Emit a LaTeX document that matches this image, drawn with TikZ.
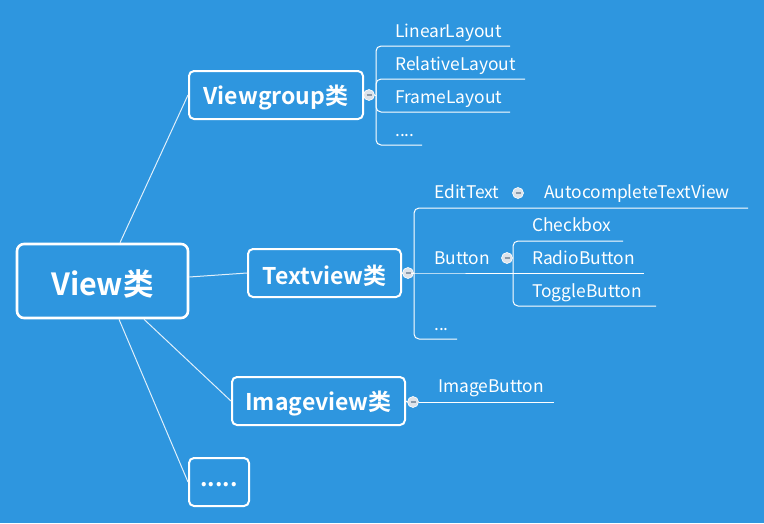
\documentclass[tikz,border=0pt]{standalone}
\usepackage{fontspec}
\setmainfont{Noto Sans CJK SC}[BoldFont={Noto Sans CJK SC Bold}]
\usetikzlibrary{calc}
\definecolor{bg}{HTML}{2E96DF}
\definecolor{togfill}{HTML}{DDE3EA}
\definecolor{togbar}{HTML}{8A9AAA}
\newcommand{\dn}[1]{\raisebox{-2.5pt}[\height][\depth]{#1}}
\begin{document}
\begin{tikzpicture}[x=1pt,y=-1pt,
  box/.style={draw=white,line width=2pt,rounded corners=5pt,text=white,font=\bfseries\fontsize{23}{26}\selectfont,inner sep=0pt},
  root/.style={box,line width=2.6pt,rounded corners=7pt,font=\bfseries\fontsize{30.5}{34}\selectfont},
  leaf/.style={text=white,font=\fontsize{17.4}{20}\selectfont,inner sep=0pt,anchor=base west},
  link/.style={draw=white!85!bg,line width=1pt},
  br/.style={draw=white,line width=1pt,rounded corners=5pt},
  tog/.style={circle,fill=togfill,draw=white,line width=0.6pt,minimum size=11pt,inner sep=0pt},
  togline/.style={draw=togbar,line width=1.4pt}]
\fill[bg] (0,0) rectangle (764,523);
\useasboundingbox (0,0) rectangle (764,523);

% main nodes
\node[root,minimum width=171pt,minimum height=74pt] (view) at (102.5,281) {\dn{View类}};
\node[box,minimum width=174pt,minimum height=48pt] (vg) at (276,95) {\dn{Viewgroup类}};
\node[box,minimum width=153pt,minimum height=48pt] (tv) at (324.5,273) {\dn{Textview类}};
\node[box,minimum width=173pt,minimum height=48pt] (iv) at (318.5,401) {\dn{Imageview类}};
\node[box,minimum width=60pt,minimum height=48pt] (dots) at (219,482) {\dn{.....}};

% connectors from root
\draw[link] ($(view.north)+(17.5,0)$) -- (vg.west);
\draw[link] ($(view.east)+(0,-4)$) -- (tv.west);
\draw[link] ($(view.south)+(41.5,0)$) -- (iv.west);
\draw[link] ($(view.south)+(16.5,0)$) -- (dots.west);

% Viewgroup children
\node[tog] (c1) at (369,95) {};
\coordinate (j1) at (376,95);
\draw[br] (vg.east) -- (c1.west);
\draw[br] (c1.east) -- (j1);
\node[leaf] (ll) at (395,37) {LinearLayout};
\node[leaf] (rl) at (395,70) {RelativeLayout};
\node[leaf] (fl) at (395,103) {FrameLayout};
\node[leaf] (vgd) at (395,136) {....};
\coordinate (ll-e) at (510,46);
\coordinate (rl-e) at (525,79);
\coordinate (fl-e) at (510,112);
\coordinate (vgd-e) at (422,145);
\draw[br] (j1) |- (ll-e);
\draw[br] (j1) |- (rl-e);
\draw[br] (j1) |- (fl-e);
\draw[br] (j1) |- (vgd-e);
\draw[togline] ($(c1)+(-2.5,0)$) -- ($(c1)+(2.5,0)$);

% Textview children
\node[tog] (c2) at (408,273) {};
\coordinate (j2) at (414,273);
\coordinate (j3) at (513,273);
\draw[br] (tv.east) -- (c2.west);
\draw[br] (c2.east) -- (j2) -- (j3);
\node[leaf] (et) at (434,198) {EditText};
\node[leaf] (act) at (544,198) {AutocompleteTextView};
\node[leaf] (btn) at (434,264) {Button};
\node[leaf] (tvd) at (434,330) {...};
\coordinate (et-e) at (748,208);
\coordinate (tvd-e) at (457,339);
\draw[br] (j2) |- (et-e);
\draw[br] (j2) |- (tvd-e);
\node[tog] (c3) at (518,193) {};
\draw[togline] ($(c3)+(-2.5,0)$) -- ($(c3)+(2.5,0)$);
\node[tog] (c4) at (507,258) {};
\draw[togline] ($(c4)+(-2.5,0)$) -- ($(c4)+(2.5,0)$);

% Button children
\node[leaf] (cb) at (532,231) {Checkbox};
\node[leaf] (rb) at (532,264) {RadioButton};
\node[leaf] (tb) at (532,297) {ToggleButton};
\coordinate (cb-e) at (623,241);
\coordinate (rb-e) at (644,273);
\coordinate (tb-e) at (656,306);
\draw[br] (j3) |- (cb-e);
\draw[br] (j3) -- (rb-e);
\draw[br] (j3) |- (tb-e);
\draw[togline] ($(c2)+(-2.5,0)$) -- ($(c2)+(2.5,0)$);

% Imageview children
\node[tog] (c5) at (413,402) {};
\coordinate (ib-e) at (554,402);
\draw[br] (iv.east) -- (c5.west);
\draw[br] (c5.east) -- (ib-e);
\node[leaf] (ib) at (438,392) {ImageButton};
\draw[togline] ($(c5)+(-2.5,0)$) -- ($(c5)+(2.5,0)$);
\end{tikzpicture}
\end{document}
